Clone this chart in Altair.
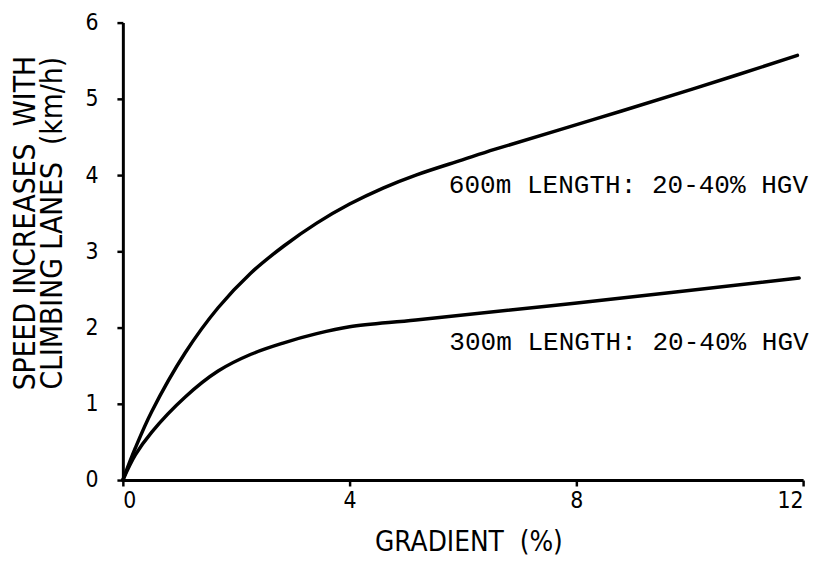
import altair as alt
import pandas as pd

# 600 m climbing lane curve (gradient %, speed increase km/h)
grad_600 = [0, 0.22, 0.51, 1.10, 1.68, 2.25, 2.84, 3.42, 4.0, 4.59, 5.17, 5.99, 6.57, 8.31, 10.06, 11.9]
speed_600 = [0, 0.42, 0.90, 1.67, 2.26, 2.71, 3.07, 3.37, 3.62, 3.83, 4.0, 4.20, 4.34, 4.73, 5.13, 5.57]

# 300 m climbing lane curve
grad_300 = [0, 0.22, 0.51, 1.10, 1.68, 2.26, 2.84, 3.42, 4.0, 5.17, 7.97, 11.93]
speed_300 = [0, 0.33, 0.63, 1.09, 1.43, 1.65, 1.80, 1.92, 2.01, 2.10, 2.32, 2.65]

x_ticks = [0, 4, 8, 12]
y_ticks = [0, 1, 2, 3, 4, 5, 6]

NB = "\u00a0"
x_title = "GRADIENT" + NB + NB + "(%)"
y_title = ["SPEED INCREASES" + NB + NB + "WITH", "CLIMBING LANES" + NB + NB + "(km/h)"]

label_text = ["600m LENGTH: 20-40% HGV", "300m LENGTH: 20-40% HGV"]
label_x = [5.75, 5.76]
label_y = [3.77, 1.70]

df = pd.concat([
    pd.DataFrame({"gradient": grad_600, "speed": speed_600, "series": "600m"}),
    pd.DataFrame({"gradient": grad_300, "speed": speed_300, "series": "300m"}),
])
labels = pd.DataFrame({"gradient": label_x, "speed": label_y, "label": label_text})

AX_FONT = "DejaVu Sans Condensed, sans-serif"

xscale = alt.Scale(domain=[0, 12], nice=False, zero=False)
yscale = alt.Scale(domain=[0, 6], nice=False, zero=False)

x_axis = alt.Axis(values=x_ticks, title=x_title, format="d",
                  labelPadding=4, titleX=349, titleY=71, titleAlign="center",
                  titleBaseline="alphabetic", titleFontSize=28)
y_axis = alt.Axis(values=y_ticks, format="d", title=y_title,
                  labelPadding=19, titleX=-89, titleY=202,
                  titleBaseline="alphabetic", titleAlign="center",
                  titleLineHeight=27, titleFontSize=30)

lines = alt.Chart(df).mark_line(
    color="black", strokeWidth=3.5, interpolate="catmull-rom", strokeCap="round"
).encode(
    x=alt.X("gradient:Q", scale=xscale, axis=x_axis),
    y=alt.Y("speed:Q", scale=yscale, axis=y_axis),
    detail="series:N",
)

texts = alt.Chart(labels).mark_text(
    align="left", baseline="alphabetic", font="Liberation Mono", fontSize=26.3, color="black"
).encode(
    x=alt.X("gradient:Q", scale=xscale, axis=x_axis),
    y=alt.Y("speed:Q", scale=yscale, axis=y_axis),
    text="label:N",
)

chart = alt.layer(lines, texts).properties(
    width=687, height=462,
    autosize="none",
    padding={"left": 116, "top": 12, "right": 10, "bottom": 80},
).configure_view(stroke=None).configure_axis(
    grid=False,
    domainColor="black", domainWidth=3,
    tickColor="black", tickWidth=2.5, tickSize=6,
    labelColor="black", labelFont=AX_FONT, labelFontSize=23,
    titleColor="black", titleFont=AX_FONT, titleFontWeight="normal",
)

chart.save("out.html", embed_options={"renderer": "svg", "actions": False})
